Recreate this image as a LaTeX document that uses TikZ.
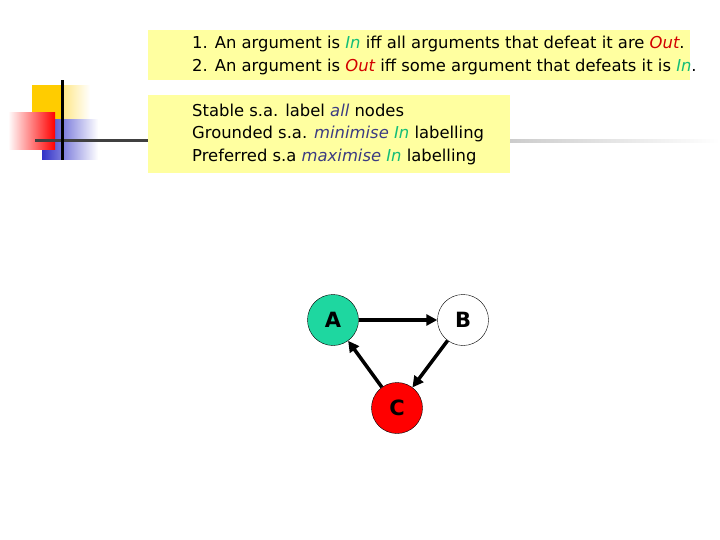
\documentclass[tikz,border=0pt]{standalone}
\usepackage{fontspec}
\setmainfont{DejaVu Sans}
\usetikzlibrary{arrows.meta}
\definecolor{boxyellow}{RGB}{255,255,160}
\definecolor{ingreen}{RGB}{20,190,120}
\definecolor{outred}{RGB}{210,0,0}
\definecolor{emblue}{RGB}{60,60,130}
\definecolor{nodegreen}{RGB}{30,215,160}
\definecolor{decoyellow}{RGB}{255,204,0}
\definecolor{decoblue}{RGB}{50,50,200}
\newcommand{\In}{\textcolor{ingreen}{\itshape In}}
\newcommand{\Out}{\textcolor{outred}{\itshape Out}}
\newcommand{\emb}[1]{\textcolor{emblue}{\itshape #1}}
\begin{document}
\begin{tikzpicture}[x=1pt,y=-1pt,
  txt/.style={anchor=west,inner sep=0pt,font=\fontsize{16.4}{20}\selectfont},
  arg/.style={circle,draw=black,thin,minimum size=51pt,inner sep=0pt,font=\fontsize{21}{24}\selectfont\bfseries},
  att/.style={-{Triangle[length=11pt,width=11pt]},line width=3.5pt}]
\useasboundingbox (0,0) rectangle (720,540);
% decoration
\shade[left color=decoyellow,right color=white] (32,86) rectangle (90,134);
\shade[left color=decoyellow,right color=decoyellow] (32,86) rectangle (62,134);
\shade[left color=decoblue,right color=white] (42,120) rectangle (98,160);
\shade[left color=white,right color=red] (8,113) rectangle (55,150);
\shade[left color=gray!40,right color=white] (510,139.5) rectangle (720,142.5);
\fill[black!75] (35,139.5) rectangle (150,142.5);
\fill[black] (60.5,80) rectangle (63.5,160);
% boxes
\node[fill=boxyellow,minimum width=542pt,minimum height=50pt,anchor=north west,inner sep=0pt] (box1) at (148,30) {};
\node[fill=boxyellow,minimum width=362pt,minimum height=78pt,anchor=north west,inner sep=0pt] (box2) at (148,95) {};
\node[txt] (l1) at (192,44) {1. An argument is \In{} iff all arguments that defeat it are \Out.};
\node[txt] (l2) at (192,67) {2. An argument is \Out{} iff some argument that defeats it is \In.};
\node[txt] (l3) at (192,110) {Stable s.a. label \emb{all} nodes};
\node[txt] (l4) at (192,134) {Grounded s.a. \emb{minimise} \In{} labelling};
\node[txt] (l5) at (192,157) {Preferred s.a \emb{maximise} \In{} labelling};
% graph
\node[arg,fill=nodegreen] (A) at (333,320) {A};
\node[arg,fill=white] (B) at (463,320) {B};
\node[arg,fill=red] (C) at (397,408) {C};
\draw[att] (A) -- (B);
\draw[att] (B) -- (C);
\draw[att] (C) -- (A);
\end{tikzpicture}
\end{document}
